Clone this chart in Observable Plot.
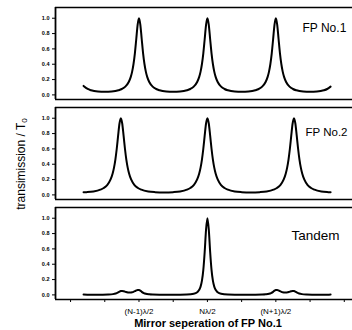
<!DOCTYPE html>
<html><head><meta charset="utf-8">
<script src="https://cdn.jsdelivr.net/npm/d3@7"></script>
<script src="https://cdn.jsdelivr.net/npm/@observablehq/plot@0.6"></script>
<style>
body{margin:0;background:#fff;}
#wrap{position:relative;width:352px;height:330px;overflow:hidden;font-family:"Liberation Sans",Arial,sans-serif;background:#fff;}
#ylab{position:absolute;left:21px;top:164px;transform:translate(-50%,-50%) rotate(-90deg);white-space:nowrap;font-size:12px;color:#000;}
#ylab sub{font-size:8px;vertical-align:-2px;}
#xlab{position:absolute;left:208px;top:323px;transform:translate(-50%,-50%);white-space:nowrap;font-size:11px;font-weight:bold;color:#000;}
svg g[aria-label^="y-axis"] text{font-size:5.5px;font-weight:bold;}
svg g[aria-label^="x-axis"] text{font-size:8px;}
</style></head><body>
<div id="wrap"><div id="ylab">transimission / T<sub>0</sub></div><div id="xlab">Mirror seperation of FP No.1</div></div>
<script>
const panels = ["FP No.1", "FP No.2", "Tandem"];

const fp1X = [-1.81,-1.75,-1.7,-1.6,-1.5,
  -1.4,-1.3,-1.25,-1.2,-1.15,-1.12,-1.1,-1.08,-1.06,-1.04,-1.02,-1,-0.98,-0.96,-0.94,-0.92,-0.9,-0.88,-0.85,-0.8,-0.75,-0.7,-0.6,-0.5,
  -0.4,-0.3,-0.25,-0.2,-0.15,-0.12,-0.1,-0.08,-0.06,-0.04,-0.02,0,0.02,0.04,0.06,0.08,0.1,0.12,0.15,0.2,0.25,0.3,0.4,0.5,
  0.6,0.7,0.75,0.8,0.85,0.88,0.9,0.92,0.94,0.96,0.98,1,1.02,1.04,1.06,1.08,1.1,1.12,1.15,1.2,1.25,1.3,1.4,1.5,
  1.6,1.7,1.75,1.8];
const fp1Y = [0.117,0.077,0.060,0.044,0.040,
  0.044,0.060,0.077,0.108,0.168,0.235,0.304,0.403,0.543,0.726,0.914,1,0.914,0.726,0.543,0.403,0.304,0.235,0.168,0.108,0.077,0.060,0.044,0.040,
  0.044,0.060,0.077,0.108,0.168,0.235,0.304,0.403,0.543,0.726,0.914,1,0.914,0.726,0.543,0.403,0.304,0.235,0.168,0.108,0.077,0.060,0.044,0.040,
  0.044,0.060,0.077,0.108,0.168,0.235,0.304,0.403,0.543,0.726,0.914,1,0.914,0.726,0.543,0.403,0.304,0.235,0.168,0.108,0.077,0.060,0.044,0.040,
  0.044,0.060,0.077,0.108];

const fp2X = [-1.81,-1.765,
  -1.665,-1.565,-1.515,-1.465,-1.415,-1.385,-1.365,-1.345,-1.325,-1.305,-1.285,-1.265,-1.245,-1.225,-1.205,-1.185,-1.165,-1.145,-1.115,-1.065,-1.015,-0.965,-0.865,-0.765,-0.6325,
  -0.5,-0.4,-0.3,-0.25,-0.2,-0.15,-0.12,-0.1,-0.08,-0.06,-0.04,-0.02,0,0.02,0.04,0.06,0.08,0.1,0.12,0.15,0.2,0.25,0.3,0.4,0.5,0.6325,
  0.765,0.865,0.965,1.015,1.065,1.115,1.145,1.165,1.185,1.205,1.225,1.245,1.265,1.285,1.305,1.325,1.345,1.365,1.385,1.415,1.465,1.515,1.565,1.665,1.765,1.8];
const fp2Y = [0.034,0.036,
  0.045,0.068,0.090,0.128,0.201,0.279,0.356,0.461,0.602,0.772,0.931,1,0.931,0.772,0.602,0.461,0.356,0.279,0.201,0.128,0.090,0.068,0.045,0.036,0.032,
  0.036,0.045,0.068,0.090,0.128,0.201,0.279,0.356,0.461,0.602,0.772,0.931,1,0.931,0.772,0.602,0.461,0.356,0.279,0.201,0.128,0.090,0.068,0.045,0.036,0.032,
  0.036,0.045,0.068,0.090,0.128,0.201,0.279,0.356,0.461,0.602,0.772,0.931,1,0.931,0.772,0.602,0.461,0.356,0.279,0.201,0.128,0.090,0.068,0.045,0.036,0.034];

const tanX = [-1.81,-1.75,-1.65,-1.55,-1.45,-1.38,-1.34,-1.31,-1.285,-1.265,-1.245,-1.22,-1.19,-1.16,-1.13,-1.1,-1.08,-1.06,-1.04,-1.02,-1,-0.98,-0.96,-0.93,-0.9,-0.85,-0.8,-0.7,-0.6,-0.5,-0.4,-0.3,-0.2,-0.15,-0.12,-0.1,-0.08,-0.06,-0.04,-0.02,
  0,0.02,0.04,0.06,0.08,0.1,0.12,0.15,0.2,0.3,0.4,0.5,0.6,0.7,0.8,0.85,0.9,0.93,0.96,0.98,1,1.02,1.04,1.06,1.08,1.1,1.13,1.16,1.19,1.22,1.245,1.265,1.285,1.31,1.34,1.38,1.45,1.55,1.65,1.75,1.8];
const tanY = [0.004,0.003,0.002,0.003,0.005,0.010,0.018,0.030,0.043,0.050,0.052,0.047,0.038,0.032,0.030,0.034,0.040,0.048,0.058,0.065,0.064,0.055,0.040,0.024,0.014,0.007,0.004,0.002,0.0015,0.0015,0.002,0.004,0.014,0.034,0.066,0.108,0.186,0.327,0.560,0.851,
  1,0.851,0.560,0.327,0.186,0.108,0.066,0.034,0.014,0.004,0.002,0.0015,0.0015,0.002,0.004,0.007,0.014,0.024,0.040,0.055,0.064,0.065,0.058,0.048,0.040,0.034,0.030,0.032,0.038,0.047,0.052,0.050,0.043,0.030,0.018,0.010,0.005,0.003,0.002,0.003,0.004];

const yTicks = [0, 0.2, 0.4, 0.6, 0.8, 1.0];
const xTickValues = [-2, -1.5, -1, -0.5, 0, 0.5, 1, 1.5, 2];
const xTickLabels = ["", "", "(N-1)\u03bb/2", "", "N\u03bb/2", "", "(N+1)\u03bb/2", "", ""];

const rows = [];
[[fp1X, fp1Y], [fp2X, fp2Y], [tanX, tanY]].forEach(([xs, ys], k) =>
  xs.forEach((x, i) => rows.push({panel: panels[k], x, y: ys[i]})));

const yMin = -0.06, yMax = 1.14, xMin = -2.22, xMax = 2.12;

const chart = Plot.plot({
  width: 352, height: 330,
  marginLeft: 55, marginRight: 0, marginTop: 6, marginBottom: 30,
  style: {fontFamily: "'Liberation Sans', Arial, sans-serif", background: "white", color: "black"},
  x: {domain: [xMin, xMax], ticks: xTickValues, tickFormat: (d) => xTickLabels[xTickValues.indexOf(d)] ?? "", tickSize: 3, tickPadding: 6, label: null},
  y: {domain: [yMin, yMax], ticks: yTicks, tickFormat: (d) => d.toFixed(1), tickSize: 3, tickPadding: 3, label: null},
  fy: {domain: panels, axis: null, padding: 0.08},
  marks: [
    Plot.ruleY([yMax], {stroke: "black", strokeWidth: 1.5}),
    Plot.ruleY([yMin], {stroke: "black", strokeWidth: 1.5}),
    Plot.ruleX([xMin], {stroke: "black", strokeWidth: 1.8}),
    Plot.line(rows, {x: "x", y: "y", fy: "panel", z: "panel", curve: "monotone-x", stroke: "black", strokeWidth: 2}),
    Plot.text([{panel: panels[0]}], {fy: "panel", text: "panel", frameAnchor: "top-right", textAnchor: "start", lineAnchor: "middle", dx: -50, dy: 21, fontSize: 12, letterSpacing: 0.3}),
    Plot.text([{panel: panels[1]}], {fy: "panel", text: "panel", frameAnchor: "top-right", textAnchor: "start", lineAnchor: "middle", dx: -47, dy: 25, fontSize: 11.5, letterSpacing: 0.2}),
    Plot.text([{panel: panels[2]}], {fy: "panel", text: "panel", frameAnchor: "top-right", textAnchor: "start", lineAnchor: "middle", dx: -61, dy: 28, fontSize: 13.5, letterSpacing: 0.6})
  ]
});
document.getElementById("wrap").prepend(chart);
</script>
</body></html>
